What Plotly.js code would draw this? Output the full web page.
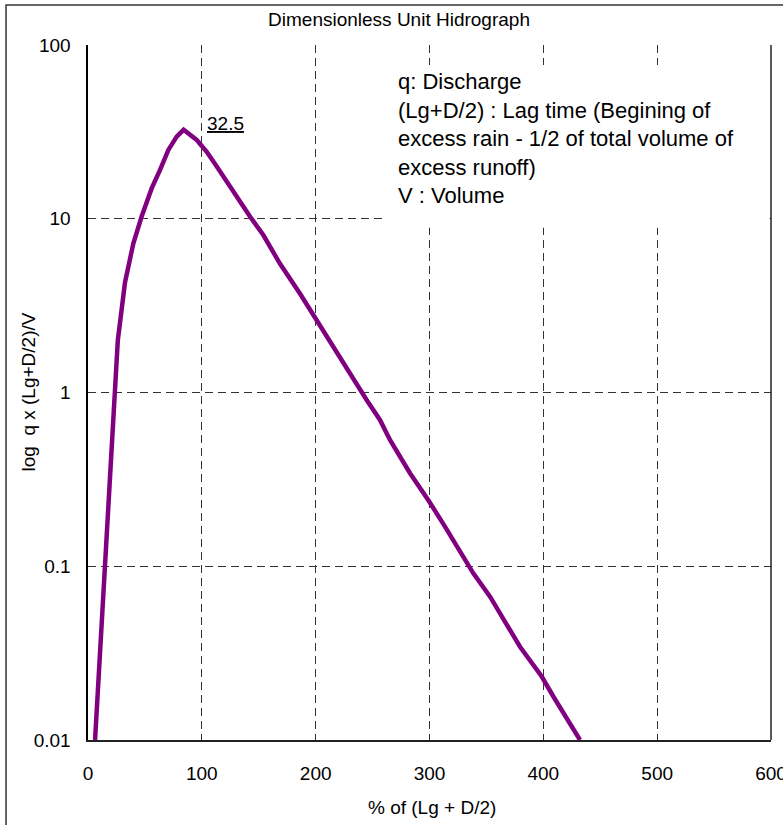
<!DOCTYPE html>
<html>
<head>
<meta charset="utf-8">
<script src="https://cdn.plot.ly/plotly-3.0.1.min.js"></script>
<style>html,body{margin:0;padding:0;background:#fff;}#chart{width:783px;height:825px;}</style>
</head>
<body>
<div id="chart"></div>
<script>
// Data
const pctLag = [6.2, 16.4, 26.2, 32.5, 39.8, 47.1, 56, 63.3, 70.6, 77.9, 84, 95.5, 104.3, 113.1, 127.7, 142.3, 154, 168.7, 186.3, 200.9, 218.5, 228.7, 244.8, 256.5, 265.3, 282.9, 299, 313.6, 322.4, 338.5, 353.2, 369.3, 379.5, 398.6, 408.8, 432.2];
const qDimless = [0.01, 0.142, 2.0, 4.3, 7.2, 10.3, 15, 19.1, 24.9, 29.7, 32.5, 28.4, 24.3, 20.0, 14.3, 10.3, 8.06, 5.5, 3.7, 2.6, 1.72, 1.32, 0.906, 0.695, 0.533, 0.343, 0.24, 0.169, 0.136, 0.091, 0.0668, 0.0449, 0.0344, 0.0232, 0.0178, 0.01];
const xTicks = [0, 100, 200, 300, 400, 500, 600];
const yTicks = [0.01, 0.1, 1, 10, 100];
const yTickText = ["0.01", "0.1", "1", "10", "100"];
const peakLabel = "32.5";
const chartTitle = "Dimensionless Unit Hidrograph";
const xTitle = "% of (Lg + D/2)";
const yTitle = "log  q x (Lg+D/2)/V";
const noteLines = ["q: Discharge", "(Lg+D/2) : Lag time (Begining of", "excess rain - 1/2 of total volume of", "excess runoff)", "V : Volume"];

const peakIdx = qDimless.indexOf(Math.max(...qDimless));

const font = "Arial, 'Liberation Sans', sans-serif";
const gridDash = "8px,5px";
const fs = 19;

const trace = {
  x: pctLag, y: qDimless, type: "scatter", mode: "lines",
  line: {color: "#800080", width: 4.5},
  hoverinfo: "x+y", showlegend: false
};

const layout = {
  width: 783, height: 825,
  margin: {l: 88, r: 12, t: 45, b: 85},
  paper_bgcolor: "#fff", plot_bgcolor: "#fff",
  font: {family: font, color: "#000", size: fs},
  title: {text: chartTitle, font: {family: font, size: fs, color: "#000"}, xref: "container", x: 0.5096, xanchor: "center", yref: "container", y: 0.977, yanchor: "middle"},
  xaxis: {
    range: [0, 600], tickvals: xTicks, ticks: "", ticklabelstandoff: 16, ticklabeloverflow: "allow",
    showgrid: true, gridcolor: "#333", gridwidth: 1, griddash: gridDash,
    showline: true, linecolor: "#222", linewidth: 1.5, zeroline: false,
    tickfont: {family: font, size: fs, color: "#000"}
  },
  yaxis: {
    type: "log", range: [-2, 2], tickvals: yTicks, ticktext: yTickText, ticks: "", ticklabelstandoff: 11, ticklabeloverflow: "allow",
    showgrid: true, gridcolor: "#333", gridwidth: 1, griddash: gridDash,
    showline: true, linecolor: "#000", linewidth: 2.5, zeroline: false,
    tickfont: {family: font, size: fs, color: "#000"}
  },
  shapes: [
    {type: "rect", xref: "paper", yref: "paper", x0: 0.437, x1: 0.998, y0: 0.737, y1: 0.9712, fillcolor: "#fff", line: {width: 0}, layer: "above"},
    {type: "line", xref: "paper", yref: "paper", x0: 1, x1: 1, y0: 0, y1: 1, line: {color: "#222", width: 1.5}, layer: "above"},
    {type: "rect", xref: "paper", yref: "paper", x0: -0.1200, x1: 1.05, y0: -0.15, y1: 1.0576, fillcolor: "rgba(0,0,0,0)", line: {color: "#333", width: 1.5}, layer: "above"}
  ],
  annotations: [
    {text: noteLines.join("<br>"), xref: "paper", yref: "paper", x: 0.451, y: 0.968, xanchor: "left", yanchor: "top", align: "left", showarrow: false, font: {family: font, size: 22, color: "#000"}},
    {text: '<span style="text-decoration:underline">' + peakLabel + '</span>', xref: "x", yref: "y", x: pctLag[peakIdx] + 19, y: Math.log10(qDimless[peakIdx]) + 0.035, xanchor: "left", yanchor: "middle", showarrow: false, font: {family: font, size: fs, color: "#000"}},
    {text: yTitle, xref: "paper", yref: "paper", x: -0.0878, y: 0.5, xanchor: "center", yanchor: "middle", textangle: -90, showarrow: false, font: {family: font, size: fs, color: "#000"}},
    {text: xTitle, xref: "paper", yref: "paper", x: 0.504, y: -0.0978, xanchor: "center", yanchor: "middle", showarrow: false, font: {family: font, size: fs, color: "#000"}}
  ]
};

Plotly.newPlot("chart", [trace], layout, {displayModeBar: false, staticPlot: true});
</script>
</body>
</html>
